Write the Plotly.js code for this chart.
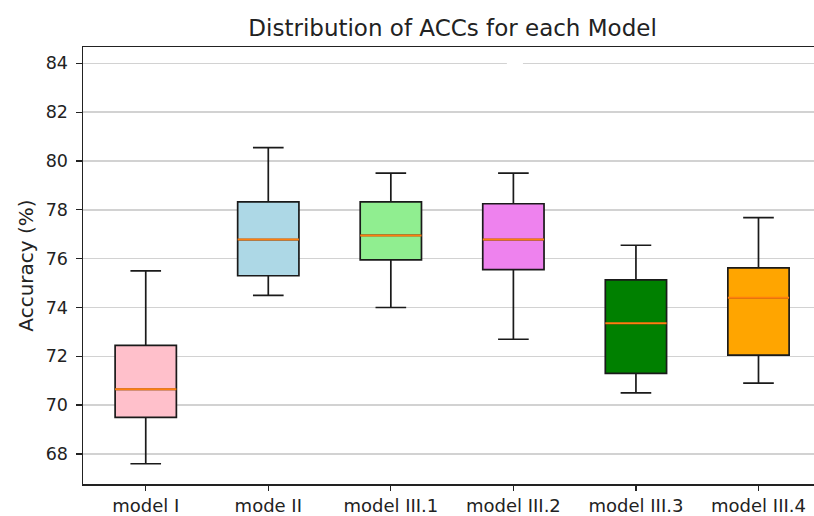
<!DOCTYPE html>
<html>
<head>
<meta charset="utf-8">
<script src="https://cdn.plot.ly/plotly-3.0.1.min.js"></script>
<style>html,body{margin:0;padding:0;background:#fff;overflow:hidden}#chart{width:814px;height:516px}</style>
</head>
<body>
<div id="chart"></div>
<script>
// Data
const models = ["model I", "mode II", "model III.1", "model III.2", "model III.3", "model III.4"];
const lowerWhisker = [67.6, 74.5, 74.0, 72.7, 70.5, 70.9];
const q1Values     = [69.5, 75.3, 75.95, 75.55, 71.3, 72.05];
const medians      = [70.65, 76.78, 76.95, 76.78, 73.35, 74.4];
const q3Values     = [72.45, 78.33, 78.33, 78.25, 75.13, 75.62];
const upperWhisker = [75.5, 80.55, 79.5, 79.5, 76.55, 77.68];
const fillColors   = ["pink", "lightblue", "lightgreen", "violet", "green", "orange"];
const yTicks = [68, 70, 72, 74, 76, 78, 80, 82, 84];

const boxWidth = 0.5;
const traces = [];
models.forEach((m, i) => {
  traces.push({
    type: "box",
    x: [i],
    q1: [q1Values[i]],
    median: [medians[i]],
    q3: [q3Values[i]],
    lowerfence: [lowerWhisker[i]],
    upperfence: [upperWhisker[i]],
    width: boxWidth,
    whiskerwidth: 0.5,
    fillcolor: fillColors[i],
    line: {color: "#1a1a1a", width: 1.7},
    showlegend: false,
    hoverinfo: "skip"
  });
});
models.forEach((m, i) => {
  traces.push({
    type: "scatter",
    mode: "lines",
    x: [i - boxWidth / 2, i + boxWidth / 2],
    y: [medians[i], medians[i]],
    line: {color: "#ff7f0e", width: 2},
    showlegend: false,
    hoverinfo: "skip"
  });
});

const layout = {
  width: 814,
  height: 516,
  margin: {l: 83, r: 0, t: 47, b: 32},
  paper_bgcolor: "#fff",
  plot_bgcolor: "#fff",
  boxmode: "overlay",
  font: {family: "DejaVu Sans", size: 17, color: "#222"},
  title: {
    text: "Distribution of ACCs for each Model",
    font: {family: "DejaVu Sans", size: 23, color: "#222"},
    x: 0.556, xanchor: "center",
    y: 0.945, yanchor: "middle"
  },
  xaxis: {
    range: [-0.512, 5.453],
    tickmode: "array",
    tickvals: models.map((m, i) => i),
    ticktext: models,
    showgrid: false,
    zeroline: false,
    showline: true,
    linecolor: "#222",
    linewidth: 1.5,
    mirror: true,
    ticks: "outside",
    ticklen: 5,
    tickwidth: 1.3,
    tickcolor: "#222",
    ticklabelstandoff: 0,
    tickfont: {family: "DejaVu Sans", size: 18, color: "#222"}
  },
  yaxis: {
    range: [66.77, 84.67],
    tickmode: "array",
    tickvals: yTicks,
    ticktext: yTicks.map(String),
    showgrid: true,
    gridcolor: "#d2d2d2",
    gridwidth: 1.5,
    zeroline: false,
    showline: true,
    linecolor: "#222",
    linewidth: 1.5,
    mirror: false,
    ticks: "outside",
    ticklen: 6,
    tickwidth: 1.3,
    tickcolor: "#222",
    ticklabelstandoff: 4,
    tickfont: {family: "DejaVu Sans", size: 17.5, color: "#222"},
    title: {text: "Accuracy (%)", font: {family: "DejaVu Sans", size: 20, color: "#222"}, standoff: 6}
  },
  shapes: [{
    type: "rect", xref: "x", yref: "y", layer: "above",
    x0: 2.947, x1: 3.078, y0: 83.85, y1: 84.15,
    fillcolor: "#fff", line: {width: 0}
  }]
};

Plotly.newPlot("chart", traces, layout, {displayModeBar: false, staticPlot: true});
</script>
</body>
</html>
